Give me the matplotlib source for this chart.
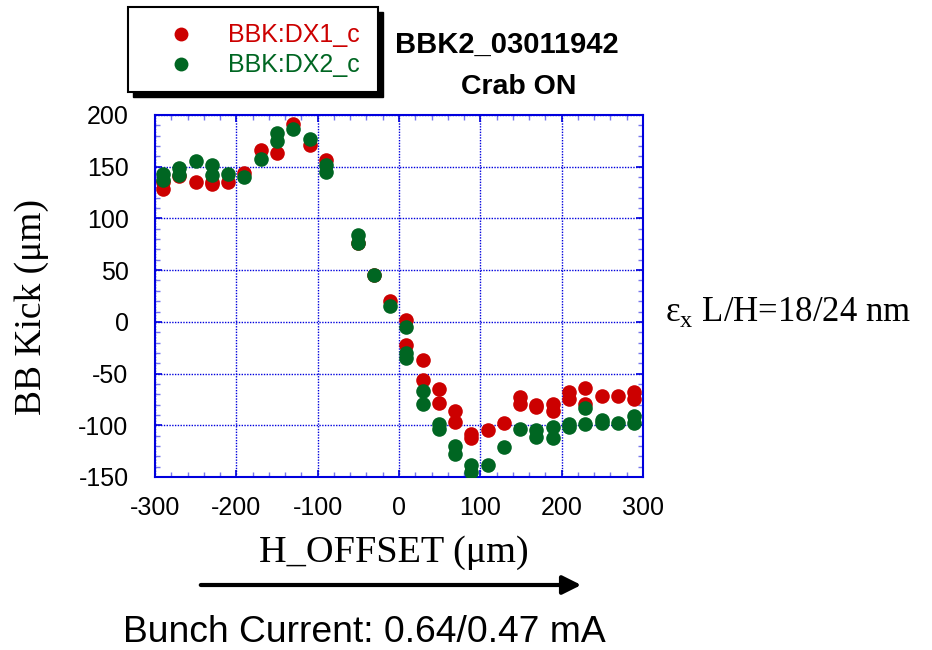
import matplotlib
matplotlib.use("Agg")
import matplotlib.pyplot as plt
from matplotlib.patches import Rectangle
from matplotlib.lines import Line2D
from matplotlib.ticker import MultipleLocator

plt.rcParams['font.family'] = ['Liberation Sans', 'DejaVu Sans']
plt.rcParams['mathtext.fontset'] = 'custom'
plt.rcParams['mathtext.rm'] = 'Liberation Serif'
plt.rcParams['axes.unicode_minus'] = False

# BBK:DX1_c (red)
x_dx1 = [-290, -290, -270, -250, -230, -230, -210, -190, -170, -150, -130, -110, -90,
         -51, -31, -11, 9, 9, 29, 29, 49, 49, 69, 69, 89, 89, 109, 129,
         149, 149, 169, 169, 189, 189, 209, 209, 229, 229, 249, 269, 289, 289]
y_dx1 = [128, 135, 141, 135.5, 133, 135, 135.5, 144, 166, 163, 191, 171, 156.5,
         76, 45, 20.5, 2, -22, -37, -56, -65, -78, -86, -97, -108, -112.5, -104.5, -98,
         -73, -79, -80, -82.5, -79, -86.5, -67.5, -75, -63.5, -79, -71.5, -72, -67.5, -75]

# BBK:DX2_c (green)
x_dx2 = [-290, -290, -270, -270, -250, -230, -230, -210, -190, -170, -150, -150, -130, -110, -90, -90,
         -51, -51, -31, -11, 9, 9, 9, 29, 29, 49, 49, 69, 69, 89, 89, 109, 129,
         149, 169, 169, 189, 189, 209, 209, 229, 229, 249, 249, 269, 289, 289]
y_dx2 = [137, 143, 142, 148.5, 155.5, 142, 152, 143, 140, 157, 175, 182.5, 186, 176.5, 152, 145,
         84, 76, 45, 15.5, -4.5, -30, -35, -67, -79, -98.5, -104, -120.5, -127.5, -138, -145, -138, -121,
         -104, -105, -111.5, -102, -112, -99, -102, -83.5, -99, -95, -97.5, -97.5, -91.5, -98]

W, H = 932, 650
fig = plt.figure(figsize=(W / 100, H / 100), dpi=100)
ax = fig.add_axes([155 / W, 1 - 477 / H, 488 / W, 362 / H])

red = '#CC0000'
green = '#006622'
blue = '#0000DD'

ax.plot(x_dx1, y_dx1, 'o', color=red, ms=10.5, mec='none', zorder=3)
ax.plot(x_dx2, y_dx2, 'o', color=green, ms=10.5, mec='none', zorder=4)

ax.set_xlim(-300, 300)
ax.set_ylim(-150, 200)
ax.xaxis.set_major_locator(MultipleLocator(100))
ax.xaxis.set_minor_locator(MultipleLocator(20))
ax.yaxis.set_major_locator(MultipleLocator(50))
ax.yaxis.set_minor_locator(MultipleLocator(10))
ax.grid(True, which='major', color=blue, linestyle=(0, (1, 1)), linewidth=1)
for s in ax.spines.values():
    s.set_color(blue)
    s.set_linewidth(1.5)
ax.tick_params(which='both', direction='in', top=True, right=True, color=blue, labelsize=18)
ax.tick_params(which='major', length=5, width=1.2)
ax.tick_params(which='minor', length=3.5, width=1, color='#7777EE')
ax.tick_params(axis='x', pad=14)
ax.tick_params(axis='y', pad=19)

# axis labels
fig.text(32 / W, 1 - 307 / H, 'BB Kick (\u03bcm)', rotation=90, ha='center', va='center',
         family='Liberation Serif', fontsize=27)
fig.text(394 / W, 1 - 553 / H, 'H_OFFSET (\u03bcm)', ha='center', va='center',
         family='Liberation Serif', fontsize=27.5)

# arrow under x label
ax.annotate('', xy=(584 / W, 1 - 585 / H), xytext=(198 / W, 1 - 585 / H),
            xycoords='figure fraction', textcoords='figure fraction',
            arrowprops=dict(arrowstyle='-|>', lw=3, color='black', mutation_scale=28))

fig.text(364 / W, 1 - 633 / H, 'Bunch Current: 0.64/0.47 mA', ha='center', va='center', fontsize=26.8)

fig.text(665 / W, 1 - 312 / H, '\u03b5$_{\\mathrm{x}}$ L/H=18/24 nm', ha='left', va='center',
         family='Liberation Serif', fontsize=25)

# title
fig.text(507 / W, 1 - 45 / H, 'BBK2_03011942', ha='center', va='center', fontsize=21, fontweight='bold')
fig.text(519 / W, 1 - 87 / H, 'Crab ON', ha='center', va='center', fontsize=20.5, fontweight='bold')

# legend box with shadow
fig.add_artist(Rectangle((133 / W, 1 - 97 / H), 250 / W, 85 / H, transform=fig.transFigure,
                         facecolor='black', edgecolor='black', zorder=5))
fig.add_artist(Rectangle((128 / W, 1 - 92 / H), 250 / W, 85 / H, transform=fig.transFigure,
                         facecolor='white', edgecolor='black', lw=1.5, zorder=6))
for yy, col, lab in [(34, red, 'BBK:DX1_c'), (64, green, 'BBK:DX2_c')]:
    fig.add_artist(Line2D([181 / W], [1 - yy / H], transform=fig.transFigure, marker='o',
                          color=col, ms=10, mec='none', zorder=7))
    fig.text(228 / W, 1 - (yy + 1) / H, lab, color=col, ha='left', va='center', fontsize=18, zorder=7)

fig.savefig('out.png', dpi=100)
